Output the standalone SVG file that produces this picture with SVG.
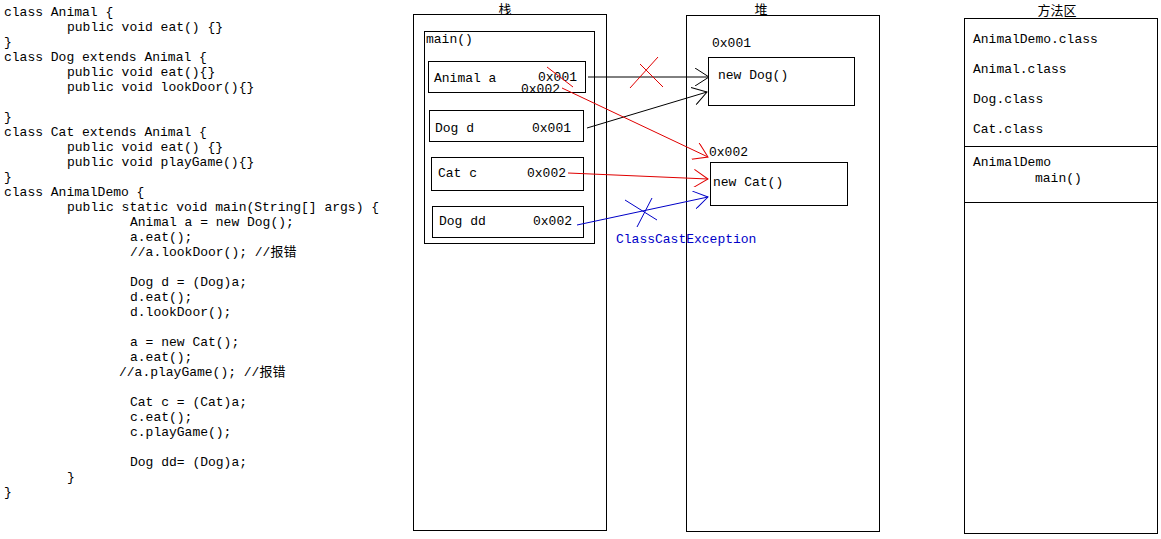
<svg xmlns="http://www.w3.org/2000/svg" width="1161" height="539" viewBox="0 0 1161 539">
<style>
text{font-family:"Liberation Mono","Noto Sans CJK SC",monospace;font-size:13px;fill:#000;white-space:pre}
.lbl{font-family:"Noto Sans CJK SC","Liberation Sans",sans-serif;font-size:13px;text-anchor:middle}
.box{fill:#fff;stroke:#000;stroke-width:1}
.blk{stroke:#000;stroke-width:1;fill:none}
.red{stroke:#e00000;stroke-width:1;fill:none}
.blu{stroke:#0000c8;stroke-width:1;fill:none}
.bt{fill:#0000c8}
</style>
<defs>
<marker id="ab" markerUnits="userSpaceOnUse" markerWidth="16" markerHeight="18" viewBox="0 0 14 18" refX="14" refY="9" orient="auto"><path d="M0,0 L14,9 L0,18" fill="none" stroke="#000"/></marker>
<marker id="ar" markerUnits="userSpaceOnUse" markerWidth="16" markerHeight="18" viewBox="0 0 14 18" refX="14" refY="9" orient="auto"><path d="M0,0 L14,9 L0,18" fill="none" stroke="#e00000"/></marker>
<marker id="au" markerUnits="userSpaceOnUse" markerWidth="16" markerHeight="18" viewBox="0 0 14 18" refX="14" refY="9" orient="auto"><path d="M0,0 L14,9 L0,18" fill="none" stroke="#0000c8"/></marker>
</defs>
<rect width="1161" height="539" fill="#fff"/>
<g id="code">
<text x="4" y="16">class Animal {</text>
<text x="67" y="31">public void eat() {}</text>
<text x="4" y="46">}</text>
<text x="4" y="61">class Dog extends Animal {</text>
<text x="67" y="76">public void eat(){}</text>
<text x="67" y="91">public void lookDoor(){}</text>
<text x="4" y="121">}</text>
<text x="4" y="136">class Cat extends Animal {</text>
<text x="67" y="151">public void eat() {}</text>
<text x="67" y="166">public void playGame(){}</text>
<text x="4" y="181">}</text>
<text x="4" y="196">class AnimalDemo {</text>
<text x="67" y="211">public static void main(String[] args) {</text>
<text x="130" y="226">Animal a = new Dog();</text>
<text x="130" y="241">a.eat();</text>
<text x="130" y="256">//a.lookDoor(); //报错</text>
<text x="130" y="286">Dog d = (Dog)a;</text>
<text x="130" y="301">d.eat();</text>
<text x="130" y="316">d.lookDoor();</text>
<text x="130" y="346">a = new Cat();</text>
<text x="130" y="361">a.eat();</text>
<text x="119" y="376">//a.playGame(); //报错</text>
<text x="130" y="406">Cat c = (Cat)a;</text>
<text x="130" y="421">c.eat();</text>
<text x="130" y="436">c.playGame();</text>
<text x="130" y="466">Dog dd= (Dog)a;</text>
<text x="67" y="481">}</text>
<text x="4" y="496">}</text>
</g>
<g id="stack">
<text class="lbl" x="505" y="14">栈</text>
<rect class="box" x="413.5" y="14.5" width="193" height="516"/>
<rect class="box" x="424.5" y="31.5" width="170" height="212"/>
<text x="426" y="43">main()</text>
</g>
<g id="var-a">
<rect class="box" x="428.5" y="61.5" width="157" height="31"/>
<text x="434" y="82">Animal a</text>
<text x="538" y="81">0x001</text>
<text x="521" y="93">0x002</text>
</g>
<g id="var-d">
<rect class="box" x="429.5" y="110.5" width="154" height="31"/>
<text x="435" y="132">Dog d</text>
<text x="532" y="132">0x001</text>
</g>
<g id="var-c">
<rect class="box" x="431.5" y="157.5" width="152" height="33"/>
<text x="438" y="177">Cat c</text>
<text x="527" y="177">0x002</text>
</g>
<g id="var-dd">
<rect class="box" x="432.5" y="206.5" width="151" height="31"/>
<text x="439" y="225">Dog dd</text>
<text x="533" y="225">0x002</text>
</g>
<g id="heap">
<text class="lbl" x="761" y="14">堆</text>
<rect class="box" x="686.5" y="15.5" width="193" height="516"/>
</g>
<g id="obj-dog">
<text x="712" y="47">0x001</text>
<rect class="box" x="708.5" y="57.5" width="146" height="48"/>
<text x="718" y="79">new Dog()</text>
</g>
<g id="obj-cat">
<text x="709" y="156">0x002</text>
<rect class="box" x="710.5" y="162.5" width="137" height="43"/>
<text x="713" y="186">new Cat()</text>
</g>
<g id="method-area">
<text class="lbl" x="1057" y="15">方法区</text>
<rect class="box" x="964.5" y="18.5" width="193" height="515"/>
<line class="blk" x1="964" y1="146.5" x2="1158" y2="146.5"/>
<line class="blk" x1="964" y1="202.5" x2="1158" y2="202.5"/>
<text x="973" y="43">AnimalDemo.class</text>
<text x="973" y="73">Animal.class</text>
<text x="973" y="103">Dog.class</text>
<text x="973" y="133">Cat.class</text>
<text x="973" y="166">AnimalDemo</text>
<text x="1035" y="182">main()</text>
</g>
<g id="connectors">
<line class="blk" x1="588" y1="77" x2="709" y2="77" marker-end="url(#ab)"/>
<line class="blk" x1="587" y1="128" x2="707" y2="92" marker-end="url(#ab)"/>
<line class="red" x1="547" y1="67" x2="573" y2="87"/>
<line class="red" x1="562" y1="88" x2="708" y2="157" marker-end="url(#ar)"/>
<line class="red" x1="568" y1="173" x2="708" y2="179" marker-end="url(#ar)"/>
<line class="blu" x1="577" y1="225" x2="708" y2="197" marker-end="url(#au)"/>
<line class="red" x1="630" y1="88" x2="658" y2="57"/>
<line class="red" x1="640" y1="64" x2="663" y2="87"/>
<line class="blu" x1="625" y1="200" x2="657" y2="220"/>
<line class="blu" x1="652" y1="198" x2="637" y2="227"/>
<text class="bt" x="616" y="243">ClassCastException</text>
</g>
</svg>
